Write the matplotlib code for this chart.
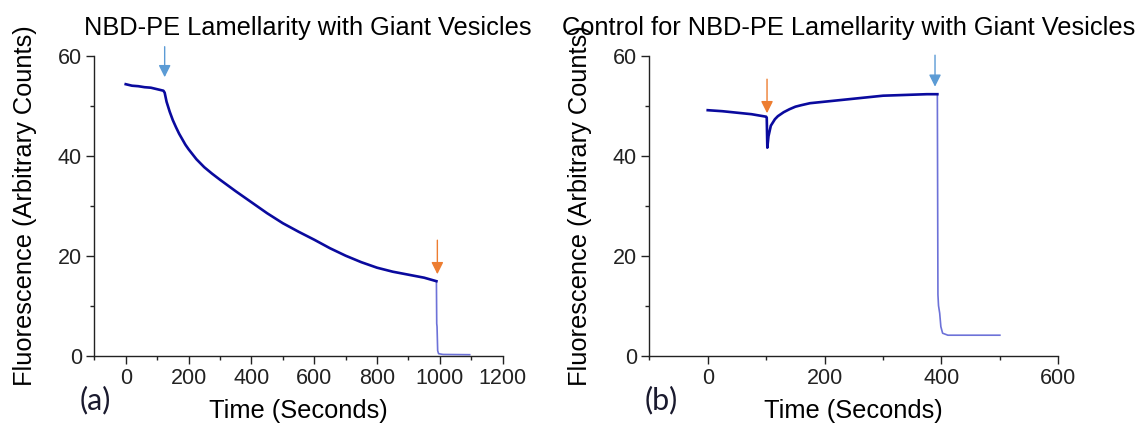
import numpy as np
import matplotlib
matplotlib.use("Agg")
import matplotlib.pyplot as plt

plt.rcParams.update({
    "font.family": ["Liberation Sans", "DejaVu Sans"],
    "font.size": 15.5,
    "axes.linewidth": 1.0,
    "axes.edgecolor": "#222222",
    "xtick.color": "#222222",
    "ytick.color": "#222222",
})

# panel (a): NBD-PE lamellarity with giant vesicles
t_a = [0, 20, 40, 60, 80, 100, 120, 124, 130, 140, 150, 160, 170, 180, 190,
       200, 210, 225, 250, 275, 300, 350, 400, 450, 500, 550, 600, 650, 700,
       750, 800, 850, 900, 950, 989]
f_a = [54.3, 54.0, 53.9, 53.7, 53.6, 53.3, 53.0, 52.6, 50.8, 48.8, 47.1, 45.7,
       44.4, 43.3, 42.2, 41.3, 40.5, 39.3, 37.7, 36.4, 35.2, 32.9, 30.7, 28.5,
       26.5, 24.8, 23.2, 21.5, 20.0, 18.7, 17.6, 16.8, 16.2, 15.6, 14.9]
t_a_drop = [989, 990, 991, 993, 996, 1010, 1095]
f_a_drop = [14.9, 6.4, 5.8, 1.0, 0.4, 0.25, 0.2]

# panel (b): control
t_b = [0, 25, 50, 75, 100, 101, 102, 104, 108, 115, 120, 130, 140, 150, 160,
       175, 200, 225, 250, 275, 300, 325, 350, 375, 393]
f_b = [49.1, 48.9, 48.6, 48.3, 47.8, 47.6, 41.6, 43.9, 46.0, 47.3, 47.9, 48.7,
       49.3, 49.8, 50.1, 50.5, 50.8, 51.1, 51.4, 51.7, 52.0, 52.1, 52.2, 52.3,
       52.3]
t_b_drop = [393, 394, 395, 397, 399, 402, 411, 450, 500]
f_b_drop = [52.3, 12.2, 10.0, 8.5, 5.8, 4.5, 4.1, 4.1, 4.1]

# addition arrows: (time, tip, tail, colour)
arrows_a = [(124, 55.7, 61.8, "#5b9bd5"), (992, 16.3, 23.1, "#ed7d31")]
arrows_b = [(101.5, 48.5, 55.3, "#ed7d31"), (389, 53.8, 60.1, "#5b9bd5")]

LINE = "#0a0a9e"
LIGHT = "#6d72d8"

fig = plt.figure(figsize=(11.38, 4.25), dpi=100)
ax_a = fig.add_axes([94.3 / 1138, 1 - 355.7 / 425, 408.4 / 1138, 300 / 425])
ax_b = fig.add_axes([649.3 / 1138, 1 - 355.7 / 425, 409 / 1138, 300 / 425])

panels = [
    (ax_a, t_a, f_a, t_a_drop, f_a_drop, arrows_a, (-100, 1200), 200,
     "NBD-PE Lamellarity with Giant Vesicles", 0.523, "(a)", 80),
    (ax_b, t_b, f_b, t_b_drop, f_b_drop, arrows_b, (-100, 600), 200,
     "Control for NBD-PE Lamellarity with Giant Vesicles", 0.487, "(b)", 645),
]

for ax, t, f, td, fd, arrows, xlim, step, title, tx, tag, tagx in panels:
    ax.plot(td, fd, color=LIGHT, lw=1.2)
    ax.plot(t, f, color=LINE, lw=1.9)
    for x, tip, tail, c in arrows:
        ax.annotate("", xy=(x, tip), xytext=(x, tail), annotation_clip=False,
                    arrowprops=dict(arrowstyle="-|>,head_length=0.6,head_width=0.3",
                                    color=c, lw=1.0, mutation_scale=12,
                                    shrinkA=0, shrinkB=0))
    ax.set_xlim(*xlim)
    ax.set_ylim(0, 60)
    ax.set_xticks(np.arange(0, xlim[1] + 1, step))
    ax.set_xticks(np.arange(xlim[0], xlim[1] + 1, step / 2), minor=True)
    ax.set_yticks([0, 20, 40, 60])
    ax.set_yticks([10, 30, 50], minor=True)
    ax.tick_params(which="major", direction="out", length=5.5, width=1.0, pad=3.5)
    ax.tick_params(which="minor", direction="out", length=3, width=1.0)
    for s in ("top", "right"):
        ax.spines[s].set_visible(False)
    ax.set_xlabel("Time (Seconds)", fontsize=18.3, labelpad=7)
    ax.set_ylabel("Fluorescence (Arbitrary Counts)", fontsize=18.3, labelpad=15)
    ax.set_title(title, fontsize=18.3, x=tx, pad=15)
    fig.text(tagx / 1138, 1 - 414 / 425, tag, fontsize=22,
             family=["Lato", "DejaVu Sans"], color="#1a1a2e", va="bottom")

fig.savefig("out.png", dpi=100)
